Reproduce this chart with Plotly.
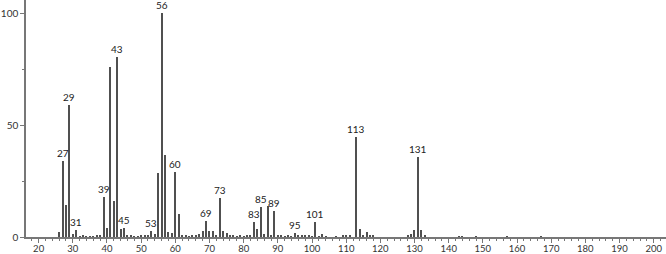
import plotly.graph_objects as go

mz = [26, 27, 28, 29, 30, 31, 32, 33, 34, 35, 36, 37, 38, 39, 40, 41, 42, 43, 44, 45,
      46, 47, 48, 49, 50, 51, 52, 53, 54, 55, 56, 57, 58, 59, 60, 61, 62, 63, 64, 65,
      66, 67, 68, 69, 70, 71, 72, 73, 74, 75, 76, 77, 78, 79, 80, 81, 82, 83, 84, 85,
      86, 87, 88, 89, 90, 91, 92, 93, 94, 95, 96, 97, 98, 99, 100, 101, 102, 103, 104,
      107, 109, 110, 111, 113, 114, 115, 116, 117, 118, 128, 129, 130, 131, 132, 133,
      143, 144, 148, 157, 167]
intensity = [2.3, 33.8, 14.2, 59.0, 1.5, 3.2, 0.4, 0.5, 0.2, 0.4, 0.4, 0.8, 1.0, 17.8, 4.2,
             75.8, 16.0, 80.3, 3.6, 4.0, 0.8, 0.6, 0.3, 0.4, 0.6, 0.8, 0.6, 2.9, 1.5, 28.7,
             100.0, 36.5, 2.4, 1.7, 29.0, 10.3, 0.5, 0.6, 0.3, 0.6, 0.6, 1.2, 2.5, 7.0, 2.8,
             2.5, 0.7, 17.3, 2.5, 1.8, 0.6, 0.6, 0.3, 0.5, 0.3, 0.6, 0.5, 6.5, 3.8, 13.6,
             1.4, 14.0, 1.0, 11.4, 0.6, 0.6, 0.3, 0.5, 0.4, 1.8, 0.7, 0.9, 0.5, 0.6, 0.3,
             6.5, 0.4, 1.2, 0.3, 0.3, 0.5, 0.6, 1.0, 44.5, 3.6, 0.6, 2.4, 0.7, 0.5, 0.5,
             1.3, 3.0, 35.6, 3.0, 0.6, 0.4, 0.3, 0.4, 0.4, 0.4]

labeled_peaks = [27, 29, 31, 39, 43, 45, 53, 56, 60, 69, 73, 83, 85, 89, 95, 101, 113, 131]

x_ticks = list(range(20, 201, 10))
y_ticks = [0, 50, 100]

lookup = dict(zip(mz, intensity))

fig = go.Figure()
fig.add_trace(go.Bar(
    x=mz, y=intensity, width=0.32,
    marker=dict(color="#505050", line=dict(width=0)),
    hoverinfo="x+y",
))

for p in labeled_peaks:
    fig.add_annotation(
        x=p, y=lookup[p], text=str(p), showarrow=False,
        yanchor="bottom", xanchor="center", yshift=0,
        font=dict(family="Lato, DejaVu Sans, sans-serif", size=10, color="#222"),
    )

fig.update_layout(
    width=666, height=254,
    margin=dict(l=26, r=0, t=0, b=17),
    paper_bgcolor="white", plot_bgcolor="white",
    showlegend=False, bargap=0,
    font=dict(family="Lato, DejaVu Sans, sans-serif", size=10, color="#333"),
)
fig.update_xaxes(
    range=[16.3, 203.6], tickvals=x_ticks, ticktext=[str(v) for v in x_ticks],
    showgrid=False, zeroline=False, automargin=False,
    showline=True, linecolor="#777", linewidth=1.5,
    ticks="outside", ticklen=4, tickcolor="#777", tickwidth=1,
    ticklabelstandoff=-2,
    minor=dict(dtick=2, tick0=0, ticks="outside", ticklen=2, tickcolor="#777", showgrid=False),
    tickfont=dict(size=9.5, color="#333"),
)
fig.update_yaxes(
    range=[0, 105.9], tickvals=y_ticks, ticktext=[str(v) for v in y_ticks],
    showgrid=False, zeroline=False, automargin=False,
    showline=True, linecolor="#777", linewidth=1.5,
    ticks="outside", ticklen=4, tickcolor="#777", tickwidth=1,
    minor=dict(tickvals=[25, 75], ticks="outside", ticklen=2, tickcolor="#777", showgrid=False),
    tickfont=dict(size=10, color="#333"),
)

fig.write_html("out.html")
